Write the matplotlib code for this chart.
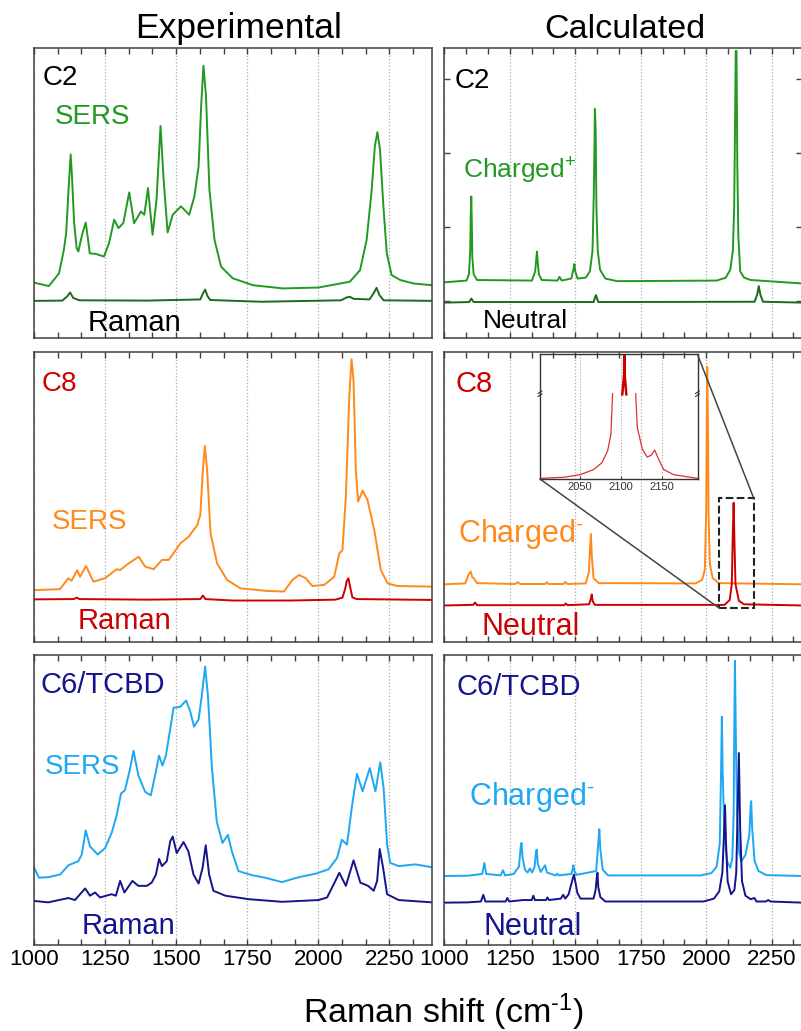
import matplotlib
matplotlib.use('Agg')
import matplotlib.pyplot as plt
from matplotlib.ticker import MultipleLocator
from matplotlib.patches import Rectangle, ConnectionPatch

plt.rcParams['font.family'] = ['Liberation Sans', 'DejaVu Sans']
plt.rcParams['mathtext.fontset'] = 'custom'
plt.rcParams['mathtext.rm'] = 'Liberation Sans'
plt.rcParams['mathtext.it'] = 'Liberation Sans'

# ---- experimental spectra (intensity in % of panel height) ----
c2_sers_x = [1000, 1052, 1088, 1105, 1113, 1122, 1129, 1134, 1141, 1150, 1156, 1170, 1182, 1190, 1196, 1217,
             1246, 1264, 1282, 1297, 1314, 1335, 1352, 1376, 1388, 1401, 1417, 1431, 1445, 1456, 1470, 1488,
             1517, 1546, 1564, 1579, 1588, 1596, 1605, 1617, 1635, 1658, 1699, 1770, 1876, 2000, 2111, 2147,
             2170, 2188, 2199, 2208, 2217, 2229, 2241, 2258, 2288, 2335, 2400]
c2_sers_y = [19.1, 17.9, 22.3, 30.4, 36.0, 52.0, 63.3, 55.0, 40.0, 31.0, 29.8, 36.0, 39.8, 34.0, 29.2, 29.0,
             28.1, 32.7, 40.8, 37.9, 39.6, 50.2, 39.6, 43.6, 42.5, 51.7, 35.6, 47.7, 73.1, 54.6, 36.4, 42.5,
             45.4, 42.5, 48.8, 59.2, 80.0, 93.9, 83.5, 51.2, 33.8, 24.6, 20.6, 18.2, 17.1, 17.4, 19.4, 23.4,
             33.8, 51.2, 66.2, 71.0, 65.0, 45.4, 29.2, 21.7, 20.0, 18.8, 18.2]
c2_raman_x = [1000, 1100, 1118, 1127, 1138, 1160, 1400, 1585, 1595, 1602, 1610, 1620, 1800, 2080, 2100, 2111,
              2125, 2180, 2195, 2205, 2215, 2230, 2400]
c2_raman_y = [12.8, 12.9, 14.5, 15.7, 13.8, 13.0, 12.9, 13.3, 15.5, 16.7, 14.5, 13.1, 12.5, 13.0, 14.0, 14.2,
              13.5, 13.3, 15.5, 17.3, 14.8, 13.0, 12.8]

c8_sers_x = [1000, 1091, 1121, 1132, 1152, 1162, 1183, 1209, 1250, 1291, 1303, 1326, 1368, 1391, 1421, 1450,
             1474, 1515, 1544, 1574, 1585, 1594, 1601, 1609, 1621, 1644, 1679, 1726, 1821, 1879, 1909, 1932,
             1956, 1979, 2021, 2056, 2074, 2085, 2097, 2109, 2117, 2124, 2132, 2140, 2156, 2173, 2197, 2220,
             2244, 2279, 2400]
c8_sers_y = [17.9, 18.2, 22.0, 21.1, 24.8, 22.5, 26.2, 20.8, 22.0, 25.1, 24.8, 26.6, 29.4, 26.0, 25.1, 28.3,
             28.3, 34.0, 36.3, 40.3, 43.8, 59.3, 67.6, 59.3, 37.5, 27.1, 21.4, 18.5, 17.6, 17.4, 21.4, 23.1,
             22.0, 19.3, 19.7, 22.5, 30.6, 31.7, 50.1, 84.6, 97.5, 90.3, 59.3, 48.4, 52.2, 49.0, 38.6, 24.8,
             20.2, 19.3, 19.1]
c8_raman_x = [1000, 1140, 1150, 1160, 1400, 1585, 1594, 1603, 1700, 1900, 2060, 2085, 2095, 2100, 2106, 2112,
              2120, 2135, 2400]
c8_raman_y = [14.7, 14.8, 15.3, 14.8, 14.6, 14.8, 16.0, 14.8, 14.3, 14.3, 14.6, 15.3, 18.5, 21.0, 22.0, 19.0,
              15.4, 14.8, 14.5]

c6_sers_x = [1000, 1017, 1050, 1092, 1121, 1156, 1168, 1182, 1197, 1224, 1250, 1273, 1291, 1306, 1320, 1338,
             1350, 1367, 1391, 1411, 1426, 1440, 1452, 1464, 1479, 1491, 1514, 1535, 1549, 1563, 1579, 1590,
             1602, 1612, 1626, 1643, 1663, 1682, 1696, 1719, 1766, 1813, 1872, 1932, 1991, 2036, 2066, 2083,
             2101, 2119, 2136, 2156, 2181, 2201, 2218, 2230, 2242, 2253, 2283, 2342, 2400]
c6_sers_y = [26.8, 23.2, 23.4, 24.3, 27.5, 28.9, 31.2, 39.5, 34.0, 31.2, 33.4, 38.6, 44.8, 52.2, 53.4, 60.8,
             67.0, 58.5, 52.8, 51.6, 58.5, 65.3, 61.9, 65.3, 74.4, 81.8, 82.1, 84.3, 80.7, 75.3, 77.8, 85.8,
             96.0, 85.8, 60.8, 42.5, 35.2, 38.0, 32.3, 25.5, 24.1, 23.2, 21.7, 23.4, 24.6, 26.1, 30.0, 36.3,
             34.6, 48.2, 59.0, 53.0, 61.0, 53.0, 63.0, 53.9, 34.6, 28.3, 27.2, 27.8, 26.8]
c6_raman_x = [1000, 1050, 1121, 1144, 1180, 1197, 1215, 1232, 1273, 1288, 1303, 1318, 1346, 1367, 1397, 1414,
              1429, 1440, 1450, 1467, 1479, 1488, 1502, 1526, 1543, 1561, 1579, 1593, 1604, 1616, 1631, 1673,
              1755, 1872, 2001, 2031, 2054, 2074, 2097, 2124, 2148, 2175, 2195, 2207, 2216, 2228, 2242, 2283, 2400]
c6_raman_y = [15.2, 14.7, 16.2, 15.5, 19.5, 17.0, 18.1, 16.4, 17.5, 17.0, 22.1, 18.1, 22.1, 20.4, 20.4, 21.5,
              24.3, 29.7, 27.2, 28.9, 35.7, 37.4, 31.7, 35.5, 32.3, 24.3, 21.2, 26.6, 34.4, 24.3, 18.7, 17.0,
              15.8, 14.9, 15.5, 16.4, 20.9, 24.9, 20.4, 29.2, 21.5, 20.4, 18.7, 22.1, 33.1, 26.6, 17.5, 15.5, 14.7]

# ---- calculated spectra ----
c2_chg_x = [1000, 1085, 1094, 1099, 1101, 1103, 1105, 1107, 1112, 1125, 1335, 1347, 1351, 1354, 1357, 1361,
            1372, 1432, 1440, 1448, 1485, 1494, 1497, 1500, 1509, 1540, 1556, 1566, 1571, 1573, 1575, 1578,
            1581, 1586, 1595, 1615, 1660, 2040, 2075, 2092, 2102, 2107, 2110, 2113, 2116, 2119, 2123, 2130,
            2145, 2170, 2368]
c2_chg_y = [19.2, 19.8, 22.0, 30.0, 42.0, 48.8, 40.0, 28.0, 22.0, 20.0, 19.8, 23.0, 27.0, 29.8, 26.0, 22.0,
            20.0, 19.8, 21.1, 19.8, 20.5, 24.0, 25.5, 23.0, 20.5, 20.8, 23.0, 30.0, 50.0, 62.0, 79.0, 72.0,
            45.0, 30.0, 23.5, 20.5, 19.6, 19.8, 20.8, 23.5, 30.0, 45.0, 70.0, 99.0, 99.0, 60.0, 35.0, 23.0,
            20.8, 20.0, 18.8]
c2_neu_x = [1000, 1095, 1103, 1112, 1570, 1579, 1588, 2185, 2195, 2201, 2207, 2217, 2368]
c2_neu_y = [12.2, 12.4, 13.6, 12.4, 12.4, 14.8, 12.4, 12.5, 15.0, 17.9, 15.0, 12.5, 12.2]

c8_chg_x = [1000, 1080, 1092, 1101, 1107, 1112, 1125, 1270, 1281, 1290, 1385, 1392, 1398, 1455, 1463, 1470,
            1540, 1552, 1557, 1560, 1563, 1570, 1590, 1960, 1985, 1995, 2000, 2002, 2004, 2007, 2009, 2014,
            2025, 2050, 2368]
c8_chg_y = [19.9, 20.2, 23.1, 24.3, 22.3, 22.0, 20.3, 20.0, 20.6, 20.0, 20.0, 20.6, 20.0, 20.0, 20.7, 20.0,
            20.2, 24.0, 33.0, 37.2, 30.0, 22.0, 20.3, 20.2, 21.5, 25.0, 45.0, 70.0, 94.9, 75.0, 45.0, 27.0,
            22.0, 20.3, 19.9]
c8_neu_x = [1000, 1110, 1118, 1125, 1458, 1464, 1470, 1553, 1560, 1563, 1567, 1575, 2070, 2090, 2098, 2102,
            2105, 2108, 2112, 2125, 2145, 2368]
c8_neu_y = [12.6, 12.8, 13.6, 12.7, 12.7, 13.3, 12.7, 13.0, 15.0, 16.4, 14.0, 12.8, 12.8, 14.5, 20.0, 38.0,
            48.0, 35.0, 20.0, 14.2, 13.0, 12.6]

c6_chg_x = [1000, 1090, 1145, 1153, 1160, 1215, 1224, 1232, 1265, 1285, 1292, 1295, 1299, 1308, 1318, 1327,
            1335, 1345, 1350, 1353, 1357, 1368, 1385, 1392, 1425, 1431, 1437, 1485, 1490, 1493, 1497, 1505,
            1580, 1588, 1592, 1596, 1605, 1625, 1980, 2020, 2040, 2052, 2057, 2060, 2063, 2070, 2080, 2092,
            2100, 2105, 2108, 2110, 2113, 2118, 2126, 2134, 2150, 2165, 2170, 2172, 2176, 2185, 2200, 2230, 2368]
c6_chg_y = [23.8, 23.9, 24.5, 28.3, 24.5, 24.0, 25.8, 24.0, 24.5, 27.0, 34.0, 35.2, 30.0, 26.0, 25.0, 26.4,
            25.0, 27.0, 32.0, 32.9, 28.0, 25.2, 27.5, 25.0, 24.0, 24.6, 24.0, 24.5, 26.0, 27.5, 25.5, 24.2,
            25.5, 35.0, 39.9, 33.0, 26.0, 24.0, 24.0, 24.8, 27.0, 35.0, 60.0, 78.7, 60.0, 38.0, 29.0, 26.6,
            30.0, 45.0, 80.0, 98.0, 75.0, 45.0, 32.0, 28.9, 31.0, 38.0, 48.0, 49.6, 40.0, 29.0, 25.5, 24.1, 23.8]
c6_neu_x = [1000, 1090, 1140, 1149, 1157, 1234, 1241, 1248, 1300, 1334, 1340, 1346, 1388, 1394, 1400, 1445,
            1454, 1462, 1475, 1482, 1488, 1495, 1500, 1508, 1520, 1570, 1578, 1582, 1585, 1588, 1596, 1615,
            1990, 2030, 2050, 2062, 2068, 2072, 2076, 2082, 2095, 2108, 2115, 2120, 2125, 2130, 2137, 2150,
            2170, 2185, 2192, 2228, 2237, 2246, 2368]
c6_neu_y = [14.6, 14.7, 15.0, 17.3, 15.0, 15.0, 16.2, 15.0, 15.5, 15.5, 17.0, 15.5, 15.5, 16.4, 15.5, 16.0,
            17.3, 16.0, 17.5, 20.0, 22.0, 24.3, 22.0, 18.0, 16.0, 16.0, 19.0, 23.0, 24.9, 20.0, 16.5, 15.0,
            15.0, 16.0, 18.5, 25.0, 38.0, 48.2, 35.0, 22.0, 17.5, 19.0, 25.0, 45.0, 66.2, 40.0, 22.0, 17.0,
            15.8, 16.2, 15.0, 15.0, 15.5, 15.0, 14.6]

# inset (C8 neutral, zoom around 2100 cm-1, broken y axis)
inset_lo_x = [2002, 2031, 2051, 2067, 2077, 2084, 2088, 2090]
inset_lo_y = [0.5, 1.4, 3.5, 7.6, 13.0, 22.5, 36.0, 68.5]
inset_hi_x = [2118, 2120, 2126, 2132, 2137, 2141, 2145, 2152, 2164, 2193]
inset_hi_y = [68.5, 41.5, 24.1, 17.6, 19.2, 23.3, 17.1, 7.6, 3.5, 0.5]
inset_top_x = [2101.8, 2104.0, 2104.3, 2104.6, 2106.7]
inset_top_y = [68.0, 84.0, 110.0, 84.0, 68.0]
zoom_box = (2051, 2182, 11.6, 49.5)

GREEN, DGREEN = '#229922', '#1b6b1b'
ORANGE, RED = '#ff8a1c', '#cc0000'
LBLUE, NAVY = '#1ea7f2', '#14148c'

W, H = 801, 1031
fig = plt.figure(figsize=(W / 100, H / 100), dpi=100)


def px_axes(x0, y0, x1, y1):
    return fig.add_axes([x0 / W, 1 - y1 / H, (x1 - x0) / W, (y1 - y0) / H])


def style(ax, xmax, labels):
    ax.set_xlim(1000, xmax)
    ax.set_ylim(0, 100)
    ax.xaxis.set_major_locator(MultipleLocator(250))
    ax.xaxis.set_minor_locator(MultipleLocator(250 / 3))
    ax.tick_params(axis='x', which='both', direction='in', top=True, bottom=True,
                   length=4, width=1, color='#404040', labelsize=16, pad=3,
                   labelbottom=labels)
    ax.set_yticks([])
    ax.grid(axis='x', which='major', ls=':', color='#aaaaaa', lw=0.9)
    for s in ax.spines.values():
        s.set_color('#404040')
        s.set_linewidth(1.1)


def label(x, y, s, color, size):
    fig.text(x / W, 1 - y / H, s, color=color, fontsize=size, va='baseline')


rows = [(48, 338), (352, 642), (655, 945)]
axL = [px_axes(34, r0, 432, r1) for r0, r1 in rows]
axR = [px_axes(444.3, r0, 802.5, r1) for r0, r1 in rows]
for i in range(3):
    style(axL[i], 2400, i == 2)
    style(axR[i], 2368, i == 2)

lw = 1.4
axL[0].plot(c2_sers_x, c2_sers_y, color=GREEN, lw=lw)
axL[0].plot(c2_raman_x, c2_raman_y, color=DGREEN, lw=lw)
axL[1].plot(c8_sers_x, c8_sers_y, color=ORANGE, lw=lw)
axL[1].plot(c8_raman_x, c8_raman_y, color=RED, lw=lw)
axL[2].plot(c6_sers_x, c6_sers_y, color=LBLUE, lw=lw)
axL[2].plot(c6_raman_x, c6_raman_y, color=NAVY, lw=lw)

axR[0].plot(c2_chg_x, c2_chg_y, color=GREEN, lw=lw)
axR[0].plot(c2_neu_x, c2_neu_y, color=DGREEN, lw=lw)
axR[1].plot(c8_chg_x, c8_chg_y, color=ORANGE, lw=lw)
axR[1].plot(c8_neu_x, c8_neu_y, color=RED, lw=lw)
axR[2].plot(c6_chg_x, c6_chg_y, color=LBLUE, lw=lw)
axR[2].plot(c6_neu_x, c6_neu_y, color=NAVY, lw=lw)

axR[0].set_yticks([12.8, 38.3, 63.8, 89.3])
axR[0].tick_params(axis='y', direction='in', left=True, right=True, labelleft=False,
                   length=4, width=1, color='#404040')

# zoom box + inset
x0, x1, y0, y1 = zoom_box
axR[1].add_patch(Rectangle((x0, y0), x1 - x0, y1 - y0, fill=False, ls='--', lw=1.5, ec='#222222', zorder=5))
ins = px_axes(540, 354.5, 697.5, 479)
ins.patch.set_alpha(0)
ins.set_xlim(2002, 2193)
ins.set_ylim(0, 100)
ins.plot(inset_lo_x, inset_lo_y, color='#dd3030', lw=0.9)
ins.plot(inset_hi_x, inset_hi_y, color='#dd3030', lw=0.9)
ins.plot(inset_top_x, inset_top_y, color=RED, lw=1.8)
ins.set_xticks([2050, 2100, 2150])
ins.set_yticks([])
ins.tick_params(axis='x', direction='in', length=2, labelsize=8, pad=2, labelcolor='#333333', color='#404040')
ins.grid(axis='x', ls=':', color='#aaaaaa', lw=0.8)
for s in ins.spines.values():
    s.set_color('#333333')
    s.set_linewidth(1.0)
for sx in (0, 1):
    for off in (-0.012, 0.012):
        ins.plot([sx - 0.012, sx + 0.012], [0.675 + off, 0.695 + off], transform=ins.transAxes,
                 color='#333333', lw=0.8, clip_on=False)
for pa, pb in (((0, 0), (x0, y0)), ((1, 1), (x1, y1))):
    fig.add_artist(ConnectionPatch(xyA=pa, coordsA=ins.transAxes, xyB=pb, coordsB=axR[1].transData,
                                   color='#444444', lw=1.1))

# texts
fig.text(239 / W, 1 - 38 / H, 'Experimental', ha='center', va='baseline', fontsize=25.5)
fig.text(625 / W, 1 - 38 / H, 'Calculated', ha='center', va='baseline', fontsize=24.5)
fig.text(444 / W, 1 - 1012 / H, r'Raman shift (cm$^{\text{-1}}$)', ha='center', va='center', fontsize=24.5)

label(43, 85, 'C2', 'black', 20)
label(55, 124, 'SERS', GREEN, 20)
label(88, 331, 'Raman', 'black', 21)
label(455, 88, 'C2', 'black', 20)
label(463, 178, r'Charged$^{\text{+}}$', GREEN, 19)
label(483, 328, 'Neutral', 'black', 19)

label(42, 391, 'C8', RED, 20)
label(52, 529, 'SERS', ORANGE, 20)
label(78, 629, 'Raman', RED, 21)
label(455, 392, 'C8', RED, 21)
label(458, 542, r'Charged$^{\text{-}}$', ORANGE, 22)
label(482, 635, 'Neutral', RED, 22)

label(40, 693, 'C6/TCBD', NAVY, 21)
label(45, 774, 'SERS', LBLUE, 20)
label(82, 934, 'Raman', NAVY, 21)
label(457, 695, 'C6/TCBD', NAVY, 21)
label(469, 805, r'Charged$^{\text{-}}$', LBLUE, 22)
label(483, 935, 'Neutral', NAVY, 22)

fig.savefig('out.png', dpi=100)
